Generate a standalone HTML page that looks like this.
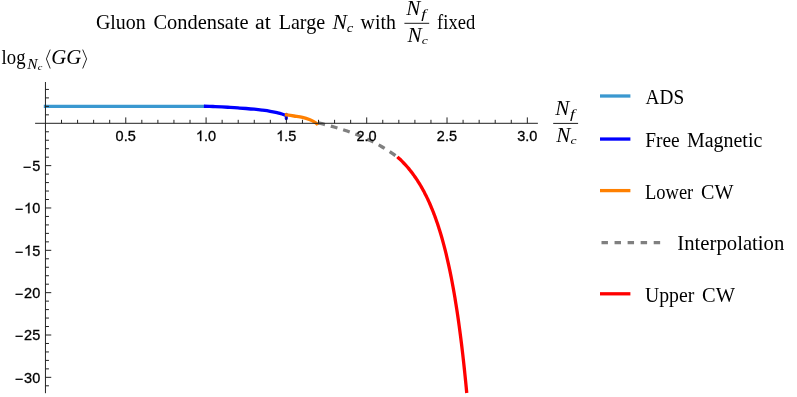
<!DOCTYPE html>
<html><head><meta charset="utf-8"><title>Gluon Condensate</title>
<style>html,body{margin:0;padding:0;background:#fff}svg{display:block}</style></head>
<body>
<svg width="797" height="397" viewBox="0 0 797 397" style="will-change:transform">
<rect width="797" height="397" fill="#fff"/>
<g fill="none" stroke-width="3.3">
<path d="M43.8 106.3H204.6" stroke="#3a98d0"/>
<path d="M203.90 106.25C205.42 106.30 210.00 106.41 213.00 106.52C216.00 106.63 219.07 106.78 221.90 106.92C224.73 107.06 227.32 107.21 230.00 107.38C232.68 107.55 235.30 107.74 237.97 107.93C240.64 108.12 243.30 108.29 246.00 108.50C248.70 108.71 251.50 108.93 254.17 109.20C256.84 109.47 259.33 109.75 262.00 110.10C264.67 110.44 267.57 110.80 270.20 111.27C272.83 111.74 275.83 112.45 277.80 112.90C279.77 113.36 280.80 113.65 282.00 114.00C283.20 114.35 284.30 114.75 285.00 115.00C285.70 115.25 286.00 115.42 286.20 115.50" stroke="#0000ff"/>
<path d="M286.3 114.2V118.6" stroke="#0000ff" stroke-width="3.1" stroke-linecap="round"/>
<path d="M284.80 114.60C286.33 114.83 291.05 115.53 294.00 116.00C296.95 116.47 299.83 116.77 302.50 117.40C305.17 118.03 307.92 118.98 310.00 119.80C312.08 120.62 313.78 121.57 315.00 122.30C316.22 123.03 316.87 123.70 317.30 124.20C317.73 124.70 317.55 125.12 317.60 125.30" stroke="#ff8000"/>
<path d="M318.30 122.88C319.18 123.10 321.81 123.74 323.56 124.19C325.31 124.64 327.07 125.09 328.82 125.56C330.57 126.03 332.33 126.52 334.08 127.01C335.83 127.51 337.59 128.03 339.34 128.56C341.09 129.09 342.85 129.64 344.60 130.22C346.35 130.79 348.11 131.39 349.86 132.01C351.61 132.63 353.37 133.27 355.12 133.95C356.87 134.62 358.63 135.32 360.38 136.05C362.13 136.78 363.89 137.55 365.64 138.34C367.39 139.14 369.15 139.97 370.90 140.83C372.65 141.70 374.41 142.60 376.16 143.55C377.91 144.49 379.67 145.47 381.42 146.49C383.17 147.52 384.93 148.58 386.68 149.70C388.43 150.81 390.19 151.97 391.94 153.18C393.69 154.38 396.32 156.32 397.20 156.94" stroke="#808080" stroke-dasharray="6.9 6"/>
<path d="M397.40 156.90C397.74 157.21 398.78 158.15 399.45 158.77C400.11 159.40 400.76 160.02 401.39 160.65C402.02 161.27 402.63 161.90 403.24 162.52C403.84 163.15 404.42 163.77 405.00 164.40C405.57 165.02 406.13 165.65 406.68 166.27C407.23 166.90 407.77 167.52 408.29 168.15C408.82 168.77 409.33 169.40 409.84 170.02C410.34 170.65 410.83 171.27 411.32 171.89C411.80 172.52 412.27 173.14 412.74 173.77C413.20 174.39 413.66 175.02 414.11 175.64C414.55 176.27 414.99 176.89 415.42 177.52C415.85 178.14 416.27 178.77 416.69 179.39C417.10 180.02 417.51 180.64 417.91 181.27C418.31 181.89 418.70 182.52 419.08 183.14C419.47 183.77 419.85 184.39 420.22 185.02C420.59 185.64 420.96 186.26 421.32 186.89C421.68 187.51 422.04 188.14 422.39 188.76C422.73 189.39 423.08 190.01 423.42 190.64C423.75 191.26 424.09 191.89 424.41 192.51C424.74 193.14 425.06 193.76 425.38 194.39C425.70 195.01 426.01 195.64 426.32 196.26C426.63 196.89 426.93 197.51 427.23 198.14C427.53 198.76 427.82 199.39 428.11 200.01C428.40 200.64 428.69 201.26 428.97 201.88C429.26 202.51 429.53 203.13 429.81 203.76C430.08 204.38 430.36 205.01 430.62 205.63C430.89 206.26 431.15 206.88 431.41 207.51C431.68 208.13 431.93 208.76 432.19 209.38C432.44 210.01 432.69 210.63 432.94 211.26C433.18 211.88 433.43 212.51 433.67 213.13C433.91 213.76 434.15 214.38 434.38 215.01C434.62 215.63 434.85 216.25 435.08 216.88C435.31 217.50 435.54 218.13 435.76 218.75C435.98 219.38 436.20 220.00 436.42 220.63C436.64 221.25 436.86 221.88 437.07 222.50C437.29 223.13 437.50 223.75 437.71 224.38C437.91 225.00 438.12 225.63 438.32 226.25C438.53 226.88 438.73 227.50 438.93 228.13C439.13 228.75 439.32 229.35 439.52 230.00C439.72 230.65 439.76 230.74 440.14 232.00C440.52 233.26 441.25 235.70 441.79 237.55C442.32 239.40 442.83 241.25 443.33 243.10C443.84 244.95 444.32 246.80 444.79 248.66C445.27 250.51 445.73 252.36 446.17 254.21C446.62 256.06 447.06 257.91 447.48 259.76C447.91 261.61 448.32 263.46 448.73 265.31C449.13 267.16 449.52 269.01 449.91 270.86C450.29 272.71 450.67 274.56 451.03 276.41C451.40 278.26 451.76 280.11 452.11 281.97C452.46 283.82 452.80 285.67 453.13 287.52C453.47 289.37 453.79 291.22 454.11 293.07C454.44 294.92 454.75 296.77 455.06 298.62C455.36 300.47 455.66 302.32 455.96 304.17C456.25 306.02 456.54 307.87 456.83 309.72C457.11 311.57 457.39 313.43 457.66 315.28C457.93 317.13 458.20 318.98 458.46 320.83C458.72 322.68 458.98 324.53 459.23 326.38C459.49 328.23 459.74 330.08 459.98 331.93C460.22 333.78 460.46 335.63 460.70 337.48C460.94 339.33 461.17 341.18 461.40 343.03C461.62 344.89 461.85 346.74 462.07 348.59C462.29 350.44 462.50 352.29 462.72 354.14C462.93 355.99 463.14 357.84 463.35 359.69C463.55 361.54 463.76 363.39 463.96 365.24C464.16 367.09 464.36 368.94 464.55 370.79C464.74 372.64 464.93 374.49 465.12 376.34C465.31 378.20 465.50 380.05 465.68 381.90C465.86 383.75 466.04 385.60 466.22 387.45C466.40 389.30 466.66 392.07 466.75 393.00" stroke="#ff0000"/>
</g>
<path d="M35.1 123.3H537.9M45.45 82V393.2" stroke="#222" stroke-width="1" fill="none"/>
<path d="M61.51 123.3v-3.5M77.58 123.3v-3.5M93.64 123.3v-3.5M109.70 123.3v-3.5M125.77 123.3v-5.9M141.83 123.3v-3.5M157.89 123.3v-3.5M173.95 123.3v-3.5M190.02 123.3v-3.5M206.08 123.3v-5.9M222.14 123.3v-3.5M238.21 123.3v-3.5M254.27 123.3v-3.5M270.33 123.3v-3.5M286.39 123.3v-5.9M302.46 123.3v-3.5M318.52 123.3v-3.5M334.58 123.3v-3.5M350.65 123.3v-3.5M366.71 123.3v-5.9M382.77 123.3v-3.5M398.84 123.3v-3.5M414.90 123.3v-3.5M430.96 123.3v-3.5M447.02 123.3v-5.9M463.09 123.3v-3.5M479.15 123.3v-3.5M495.21 123.3v-3.5M511.28 123.3v-3.5M527.34 123.3v-5.9M45.45 385.81h3.5M45.45 377.34h5.8M45.45 368.87h3.5M45.45 360.40h3.5M45.45 351.94h3.5M45.45 343.47h3.5M45.45 335.00h5.8M45.45 326.53h3.5M45.45 318.06h3.5M45.45 309.60h3.5M45.45 301.13h3.5M45.45 292.66h5.8M45.45 284.19h3.5M45.45 275.72h3.5M45.45 267.26h3.5M45.45 258.79h3.5M45.45 250.32h5.8M45.45 241.85h3.5M45.45 233.38h3.5M45.45 224.92h3.5M45.45 216.45h3.5M45.45 207.98h5.8M45.45 199.51h3.5M45.45 191.04h3.5M45.45 182.58h3.5M45.45 174.11h3.5M45.45 165.64h5.8M45.45 157.17h3.5M45.45 148.70h3.5M45.45 140.24h3.5M45.45 131.77h3.5M45.45 114.83h3.5M45.45 106.36h3.5M45.45 97.90h3.5M45.45 89.43h3.5" stroke="#222" stroke-width="1" fill="none"/>
<g font-family="Liberation Sans" font-size="14.5" fill="#000" stroke="#000" stroke-width="0.3"><text x="115.59" y="141.00">0.5</text>
<path transform="translate(195.90,141.00) scale(0.007080)" stroke-width="42" d="M763 0H583V-1147Q518 -1085 412.5 -1023Q307 -961 223 -930V-1104Q374 -1175 487 -1276Q600 -1377 647 -1472H763Z"/><text x="203.97" y="141.00">.0</text>
<path transform="translate(276.22,141.00) scale(0.007080)" stroke-width="42" d="M763 0H583V-1147Q518 -1085 412.5 -1023Q307 -961 223 -930V-1104Q374 -1175 487 -1276Q600 -1377 647 -1472H763Z"/><text x="284.28" y="141.00">.5</text>
<text x="356.53" y="141.00">2.0</text>
<text x="436.85" y="141.00">2.5</text>
<text x="517.16" y="141.00">3.0</text>
<text x="22.79" y="172.06" stroke-width="0.15">−</text><text x="32.14" y="170.84">5</text>
<text x="14.72" y="214.40" stroke-width="0.15">−</text><path transform="translate(24.07,213.18) scale(0.007080)" stroke-width="42" d="M763 0H583V-1147Q518 -1085 412.5 -1023Q307 -961 223 -930V-1104Q374 -1175 487 -1276Q600 -1377 647 -1472H763Z"/><text x="32.14" y="213.18">0</text>
<text x="14.72" y="256.74" stroke-width="0.15">−</text><path transform="translate(24.07,255.52) scale(0.007080)" stroke-width="42" d="M763 0H583V-1147Q518 -1085 412.5 -1023Q307 -961 223 -930V-1104Q374 -1175 487 -1276Q600 -1377 647 -1472H763Z"/><text x="32.14" y="255.52">5</text>
<text x="14.72" y="299.08" stroke-width="0.15">−</text><text x="24.07" y="297.86">20</text>
<text x="14.72" y="341.42" stroke-width="0.15">−</text><text x="24.07" y="340.20">25</text>
<text x="14.72" y="383.76" stroke-width="0.15">−</text><text x="24.07" y="382.54">30</text></g>
<g fill="none" stroke-width="3.3">
<path d="M600 96H630.4" stroke="#3a98d0"/>
<path d="M600 139.05H630.4" stroke="#0000ff"/>
<path d="M600 190.6H630.4" stroke="#ff8000"/>
<path d="M601.5 242.6H660.2" stroke="#808080" stroke-dasharray="6.45 6.6"/>
<path d="M600 293.8H630.4" stroke="#ff0000"/>
</g>
<g fill="#000">
<text transform="translate(95.88,28.6) scale(0.9886,1)" font-family="Liberation Serif" font-size="20.2" font-style="normal">Gluon</text>
<text transform="translate(153.41,28.6) scale(1.0116,1)" font-family="Liberation Serif" font-size="20.2" font-style="normal">Condensate</text>
<text transform="translate(255.02,28.6) scale(1.0845,1)" font-family="Liberation Serif" font-size="20.2" font-style="normal">at</text>
<text transform="translate(278.69,28.6) scale(0.9941,1)" font-family="Liberation Serif" font-size="20.2" font-style="normal">Large</text>
<text transform="translate(360.60,28.6) scale(0.9830,1)" font-family="Liberation Serif" font-size="20.2" font-style="normal">with</text>
<text transform="translate(437.11,28.6) scale(0.9177,1)" font-family="Liberation Serif" font-size="20.2" font-style="normal">fixed</text>
<text transform="translate(645.60,104) scale(0.9573,1)" font-family="Liberation Serif" font-size="20.2" font-style="normal">ADS</text>
<text transform="translate(645.30,147.0) scale(0.9592,1)" font-family="Liberation Serif" font-size="20.2" font-style="normal">Free</text>
<text transform="translate(686.89,147.0) scale(0.9891,1)" font-family="Liberation Serif" font-size="20.2" font-style="normal">Magnetic</text>
<text transform="translate(645.01,199) scale(0.9158,1)" font-family="Liberation Serif" font-size="20.2" font-style="normal">Lower</text>
<text transform="translate(701.07,199) scale(0.9970,1)" font-family="Liberation Serif" font-size="20.2" font-style="normal">CW</text>
<text transform="translate(677.35,250) scale(1.0260,1)" font-family="Liberation Serif" font-size="20.2" font-style="normal">Interpolation</text>
<text transform="translate(644.99,301.7) scale(0.9767,1)" font-family="Liberation Serif" font-size="20.2" font-style="normal">Upper</text>
<text transform="translate(702.06,301.7) scale(1.0126,1)" font-family="Liberation Serif" font-size="20.2" font-style="normal">CW</text>
<text transform="translate(1.61,64.3) scale(0.9253,1)" font-family="Liberation Serif" font-size="20.2" font-style="normal">log</text>
<text transform="translate(51.32,64.3) scale(1.0307,1)" font-family="Liberation Serif" font-size="20.2" font-style="italic">GG</text>
<text transform="translate(406.33,15.00) scale(1.0553,1.0133)" font-family="Liberation Serif" font-size="20" font-style="italic">N</text>
<text transform="translate(421.30,17.72) scale(1.2937,0.8954)" font-family="Liberation Serif" font-size="13.7" font-style="italic">f</text>
<text transform="translate(407.43,41.50) scale(1.0621,1.0057)" font-family="Liberation Serif" font-size="20" font-style="italic">N</text>
<text transform="translate(421.69,44.23) scale(1.0035,0.8029)" font-family="Liberation Serif" font-size="13.7" font-style="italic">c</text>
<text transform="translate(555.13,115.10) scale(1.0553,1.0133)" font-family="Liberation Serif" font-size="20" font-style="italic">N</text>
<text transform="translate(570.10,117.82) scale(1.2937,0.8954)" font-family="Liberation Serif" font-size="13.7" font-style="italic">f</text>
<text transform="translate(556.23,141.60) scale(1.0621,1.0057)" font-family="Liberation Serif" font-size="20" font-style="italic">N</text>
<text transform="translate(570.49,144.33) scale(1.0035,0.8029)" font-family="Liberation Serif" font-size="13.7" font-style="italic">c</text>
<text transform="translate(332.44,28.60) scale(1.0826,1.0210)" font-family="Liberation Serif" font-size="20" font-style="italic">N</text>
<text transform="translate(346.77,31.60) scale(1.0727,0.9489)" font-family="Liberation Serif" font-size="13.7" font-style="italic">c</text>
<text transform="translate(27.14,68.70) scale(1.1232,1.0567)" font-family="Liberation Serif" font-size="13.7" font-style="italic">N</text>
<text transform="translate(37.74,70.17) scale(1.0642,0.8776)" font-family="Liberation Serif" font-size="9.8" font-style="italic">c</text>
<path d="M404.4 23.3H429.2M553.2 123.4H578.1" stroke="#000" stroke-width="0.9" fill="none"/>
<path d="M50.2 49.6L46.4 58.9L50.2 68.5M82.7 49.6L86.6 58.9L82.7 68.5" stroke="#000" stroke-width="0.85" fill="none"/>
</g>
</svg>
</body></html>
